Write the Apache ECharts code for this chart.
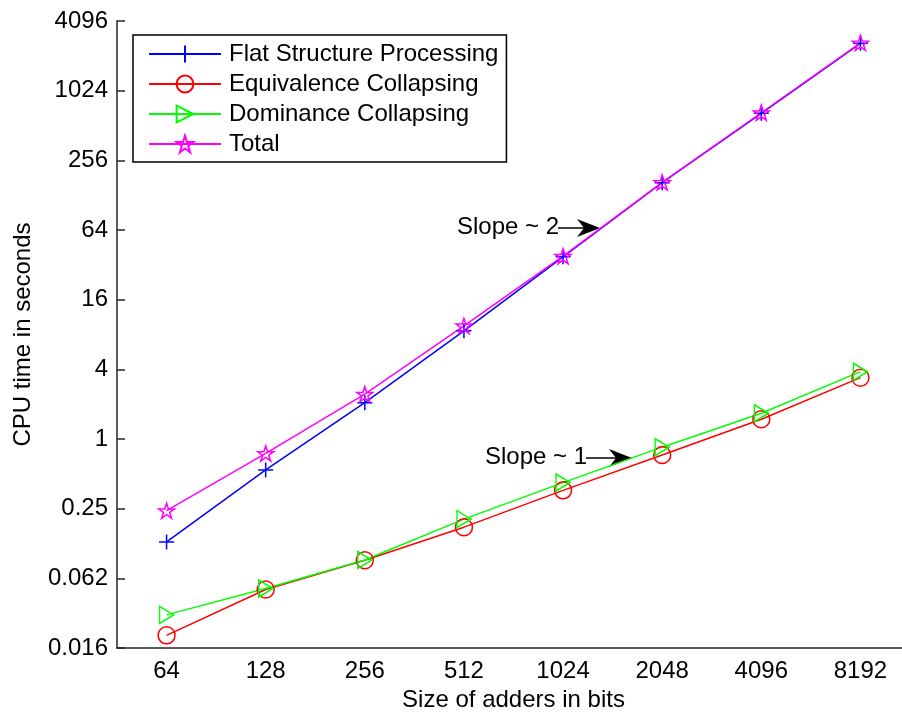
<!DOCTYPE html>
<html>
<head>
<meta charset="utf-8">
<script src="https://cdn.jsdelivr.net/npm/echarts@6/dist/echarts.min.js"></script>
<style>
  html, body { margin: 0; padding: 0; background: #fff; }
  #main { width: 902px; height: 715px; }
</style>
</head>
<body>
<div id="main"></div>
<script>
// adder sizes (bits)
var sizes = ['64', '128', '256', '512', '1024', '2048', '4096', '8192'];
// CPU times in seconds
var flatProc   = [0.129, 0.54, 2.06, 8.6, 37.5, 164, 652, 2630];
var equivColl  = [0.0201, 0.050, 0.0897, 0.173, 0.36, 0.727, 1.48, 3.39];
var domColl    = [0.0302, 0.051, 0.090, 0.203, 0.42, 0.85, 1.67, 3.82];
var totalTime  = [0.24, 0.75, 2.44, 9.5, 38, 165, 660, 2650];
// y tick labels as printed (powers of 4 from 2^-6 to 2^12)
var yTickLabels = ['0.016', '0.062', '0.25', '1', '4', '16', '64', '256', '1024', '4096'];

var FONT = 'Liberation Sans, Arial, sans-serif';

var plusPath = 'path://M0,50L100,50M50,0L50,100';
var triPath = 'path://M0,0L100,50L0,100Z';
var starPath = 'path://M100,0L122.45,69.1L195.1,69.1L136.3,111.8L158.8,180.9L100,138.2L41.2,180.9L63.7,111.8L4.9,69.1L77.55,69.1Z';

function mkSeries(name, data, color, symbol, size) {
    return {
        name: name,
        type: 'line',
        data: data,
        symbol: symbol,
        symbolSize: size,
        showAllSymbol: true,
        lineStyle: { color: color, width: 1.5 },
        itemStyle: { color: 'none', borderColor: color, borderWidth: 1.5 },
        emphasis: { disabled: true }
    };
}

var chart = echarts.init(document.getElementById('main'));

var option = {
    animation: false,
    backgroundColor: '#fff',
    textStyle: { fontFamily: FONT },
    // the x axis runs past the right edge of the canvas, as in the original
    grid: { left: 117, top: 21, bottom: 67, width: 793, containLabel: false, outerBoundsMode: 'none' },
    legend: {
        orient: 'vertical',
        left: 133,
        top: 35,
        padding: [7, 8, 6, 15],
        itemWidth: 72,
        itemHeight: 21,
        itemGap: 6,
        borderColor: '#000',
        borderWidth: 1.5,
        backgroundColor: '#fff',
        textStyle: { fontSize: 24, color: '#000', fontFamily: FONT, padding: [0, 0, 0, 3] },
        data: ['Flat Structure Processing', 'Equivalence Collapsing', 'Dominance Collapsing', 'Total']
    },
    xAxis: {
        type: 'category',
        data: sizes,
        boundaryGap: true,
        name: 'Size of adders in bits',
        nameLocation: 'middle',
        nameGap: 40,
        nameTextStyle: { fontSize: 24, color: '#000', fontFamily: FONT },
        axisLine: { lineStyle: { color: '#262626', width: 1.5 } },
        axisTick: { inside: true, length: 8, alignWithLabel: true, lineStyle: { color: '#262626', width: 1.5 } },
        axisLabel: { fontSize: 24, color: '#000', margin: 11, fontFamily: FONT },
        splitLine: { show: false }
    },
    yAxis: {
        type: 'log',
        logBase: 2,
        min: 0.015625,
        max: 4096,
        interval: 2,
        name: 'CPU time in seconds',
        nameLocation: 'middle',
        nameGap: 82,
        nameTextStyle: { fontSize: 24, color: '#000', fontFamily: FONT },
        axisLine: { show: true, lineStyle: { color: '#262626', width: 1.5 } },
        axisTick: { show: true, inside: true, length: 8, lineStyle: { color: '#262626', width: 1.5 } },
        axisLabel: {
            fontSize: 24, color: '#000', margin: 9, fontFamily: FONT,
            showMinLabel: true, showMaxLabel: true,
            formatter: function (v) {
                var i = Math.round((Math.log2(v) + 6) / 2);
                return yTickLabels[i] !== undefined ? yTickLabels[i] : '';
            }
        },
        splitLine: { show: false }
    },
    series: [
        mkSeries('Flat Structure Processing', flatProc, '#0000ff', plusPath, 15),
        mkSeries('Equivalence Collapsing', equivColl, '#ff0000', 'circle', 17),
        mkSeries('Dominance Collapsing', domColl, '#00ff00', triPath, [14, 17]),
        mkSeries('Total', totalTime, '#ff00ff', starPath, [16, 15])
    ],
    graphic: [
        { type: 'text', left: 457, top: 215, style: { text: 'Slope ~ 2', font: '24px ' + FONT, fill: '#000' } },
        { type: 'line', shape: { x1: 558, y1: 228, x2: 586, y2: 228 }, style: { stroke: '#000', lineWidth: 1.5 } },
        { type: 'polygon', shape: { points: [[600, 228], [577, 219], [584, 228], [577, 237]] }, style: { fill: '#000' } },
        { type: 'text', left: 485, top: 445, style: { text: 'Slope ~ 1', font: '24px ' + FONT, fill: '#000' } },
        { type: 'line', shape: { x1: 586, y1: 458, x2: 618, y2: 458 }, style: { stroke: '#000', lineWidth: 1.5 } },
        { type: 'polygon', shape: { points: [[632, 458], [609, 449], [616, 458], [609, 467]] }, style: { fill: '#000' } }
    ]
};

chart.setOption(option);
</script>
</body>
</html>
